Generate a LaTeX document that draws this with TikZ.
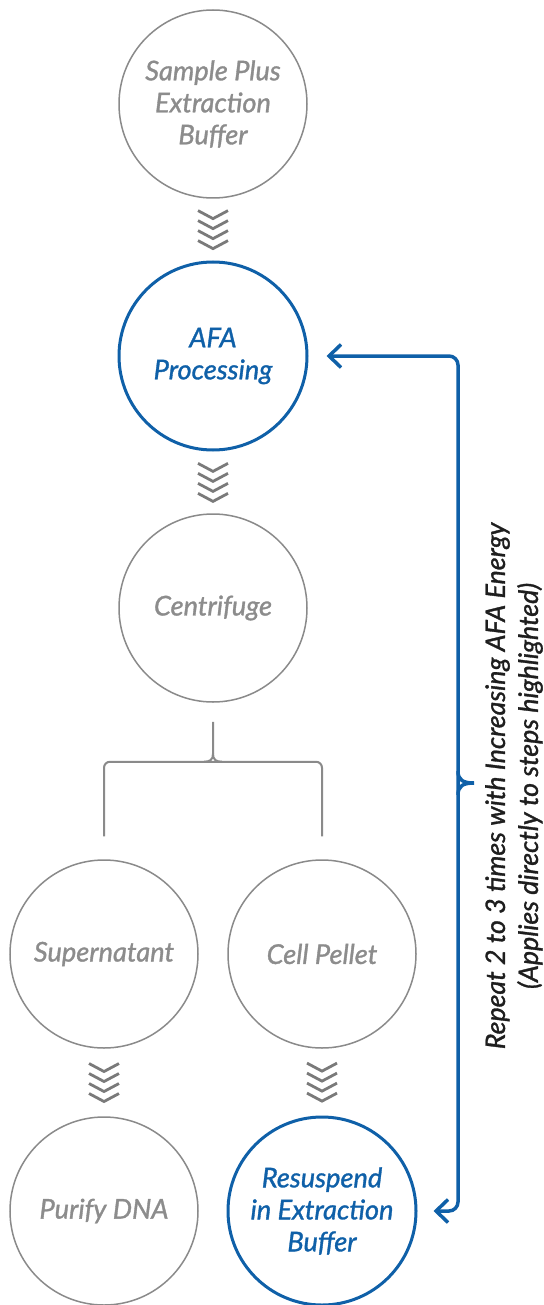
\documentclass[tikz,border=0pt]{standalone}
\usepackage{fontspec}
\setmainfont{Lato}[ItalicFeatures={FakeBold=1.2}]
\usetikzlibrary{arrows.meta,calc}
\definecolor{cgray}{HTML}{8A8A8A}
\definecolor{tgray}{HTML}{8C8C8C}
\definecolor{cblue}{HTML}{0F60A8}
\definecolor{chevc}{HTML}{7A7A7A}
\definecolor{tdark}{HTML}{1E1E1E}
\tikzset{
  stepc/.style={circle, minimum size=188pt, inner sep=0pt, align=center,
    font=\fontsize{27.2}{32}\selectfont\itshape},
  gcirc/.style={stepc, draw=cgray, line width=1.5pt, text=tgray},
  bcirc/.style={stepc, draw=cblue, line width=3pt, text=cblue},
  chevline/.style={draw=chevc, line width=2.8pt},
  gline/.style={draw=cgray, line width=2pt},
  bline/.style={draw=cblue, line width=3.5pt},
  chevs/.pic={\foreach \k in {0,...,3} \draw[chevline] (-15,-19+10*\k) -- (0,-11+10*\k) -- (15,-19+10*\k);},
  barb/.tip={Straight Barb[length=12pt,width=23pt,line width=3.5pt]}
}
\begin{document}
\begin{tikzpicture}[x=1pt,y=-1pt]
\useasboundingbox (0,0) rectangle (543,1305);
\node[gcirc] (s1) at (213,104) {Sample Plus\\Extraction\\Buffer};
\node[bcirc] (s2) at (213,356) {AFA\\Processing};
\node[gcirc] (s3) at (213,608) {Centrifuge};
\node[gcirc] (s4) at (104,954) {Supernatant};
\node[gcirc] (s5) at (322,954) {Cell Pellet};
\node[gcirc] (s6) at (104,1211) {Purify DNA};
\node[bcirc] (s7) at (322,1211) {Resuspend\\in Extraction\\Buffer};
% chevron connectors
\pic at ($(s1.south)!0.5!(s2.north)$) {chevs};
\pic at ($(s2.south)!0.5!(s3.north)$) {chevs};
\pic at ($(s4.south)!0.5!(s6.north)$) {chevs};
\pic at ($(s5.south)!0.5!(s7.north)$) {chevs};
% fork
\coordinate (ftop) at ($(s3.south)+(0,19)$);
\coordinate (fmid) at ($(s3.south)+(0,59)$);
\coordinate (fL) at ($(s4.north)+(0,-23)$);
\coordinate (fR) at ($(s5.north)+(0,-23)$);
\draw[gline, rounded corners=6pt] (fL) -- (fL |- fmid) -- (fR |- fmid) -- (fR);
\draw[gline] (ftop) -- ($(fmid)+(0,-8)$) .. controls ($(fmid)+(0,-2)$) and ($(fmid)+(-3,0)$) .. ($(fmid)+(-9,0)$);
\draw[gline] ($(fmid)+(0,-8)$) .. controls ($(fmid)+(0,-2)$) and ($(fmid)+(3,0)$) .. ($(fmid)+(9,0)$);
% blue bracket
\coordinate (a1) at ($(s2.east)+(18,0)$);
\coordinate (a2) at ($(s7.east)+(16,0)$);
\coordinate (bx) at (458,0);
\coordinate (bt) at (474,783);
\draw[bline, rounded corners=9pt, {barb}-{barb}] (a1) -- (bx |- a1) -- (bx |- a2) -- (a2);
\draw[bline] (458,771) .. controls (458,780) and (463,783) .. (bt) .. controls (463,783) and (458,786) .. (458,795);
\node[rotate=90, align=center, text=tdark, font=\fontsize{26.8}{33}\selectfont\itshape] (lab) at (514,786)
  {Repeat 2 to 3 times with Increasing AFA Energy\\(Applies directly to steps highlighted)};
\end{tikzpicture}
\end{document}
